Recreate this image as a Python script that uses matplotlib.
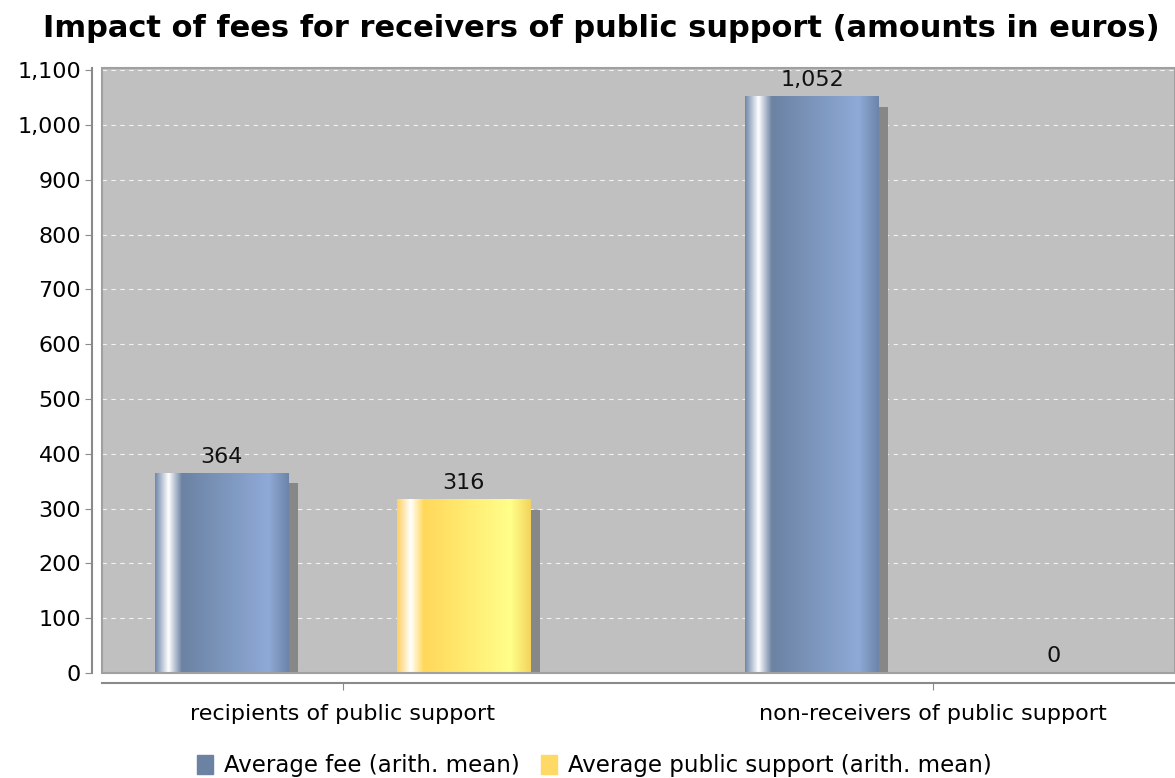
import numpy as np
import matplotlib.pyplot as plt
from matplotlib.colors import LinearSegmentedColormap
from matplotlib.patches import Patch, Rectangle
from matplotlib.ticker import FuncFormatter, MultipleLocator

categories = ['recipients of public support', 'non-receivers of public support']
series_names = ['Average fee (arith. mean)', 'Average public support (arith. mean)']
avg_fee = [364, 1052]
avg_support = [316, 0]

fig = plt.figure(figsize=(11.75, 7.78), dpi=100)
ax = fig.add_axes([0.0868, 0.135, 0.9132, 0.7774])
ax.set_facecolor('#c0c0c0')

# colour ramps across the bar width (left highlight, then dark -> light)
blue = LinearSegmentedColormap.from_list('b', [
    (0.0, '#7088aa'), (0.1, '#ffffff'), (0.2, '#6b82a3'),
    (0.85, '#8eaad6'), (1.0, '#6c84a8')])
yellow = LinearSegmentedColormap.from_list('y', [
    (0.0, '#ffd060'), (0.1, '#ffffff'), (0.2, '#ffd85a'),
    (0.85, '#ffff8a'), (1.0, '#f3d45c')])
grad = np.linspace(0, 1, 256).reshape(1, -1)

x = np.arange(len(categories))
w = 0.227
off = 0.205
for vals, cmap, d in [(avg_fee, blue, -off), (avg_support, yellow, off)]:
    for xi, v in zip(x, vals):
        x0 = xi + d - w / 2
        if v > 0:
            ax.add_patch(Rectangle((x0 + 0.016, 0), w, max(v - 18, 0),
                                   color='#878787', zorder=2, lw=0))
            ax.imshow(grad, cmap=cmap, extent=(x0, x0 + w, 0, v),
                      aspect='auto', zorder=3, interpolation='bilinear')
        ax.annotate(f'{v:,}', (xi + d, v), xytext=(0, 5), textcoords='offset points',
                    ha='center', va='bottom', fontsize=16, color='#111111', zorder=4)

ax.set_xlim(-0.408, 1.41)
ax.set_ylim(0, 1104)
ax.yaxis.set_major_locator(MultipleLocator(100))
ax.yaxis.set_major_formatter(FuncFormatter(lambda v, p: f'{v:,.0f}'))
ax.set_xticks(x)
ax.set_xticklabels(categories)
ax.grid(axis='y', color='white', linestyle=(0, (4, 4)), linewidth=0.8, alpha=0.8)
ax.set_axisbelow(True)

for s in ['top', 'right']:
    ax.spines[s].set_visible(False)
for s in ['left', 'bottom']:
    ax.spines[s].set_position(('outward', 7))
    ax.spines[s].set_color('#8a8a8a')
    ax.spines[s].set_linewidth(1.5)
ax.add_patch(Rectangle((0, 0), 1, 1, transform=ax.transAxes, fill=False,
                       edgecolor='#a0a0a0', lw=1.5, zorder=5, clip_on=False))
ax.tick_params(axis='y', labelsize=16, length=5, color='#8a8a8a', pad=3)
ax.tick_params(axis='x', labelsize=16, length=5, color='#8a8a8a', pad=10)

fig.suptitle('Impact of fees for receivers of public support (amounts in euros)',
             fontsize=22, fontweight='bold', x=0.512, y=0.982)

handles = [Patch(color='#6b82a3'), Patch(color='#ffd966')]
fig.legend(handles, series_names, loc='center', bbox_to_anchor=(0.506, 0.016),
           ncol=2, frameon=False, fontsize=16.5, handlelength=0.7, handleheight=0.9,
           handletextpad=0.5, columnspacing=0.9)

fig.savefig('out.png', dpi=100)
